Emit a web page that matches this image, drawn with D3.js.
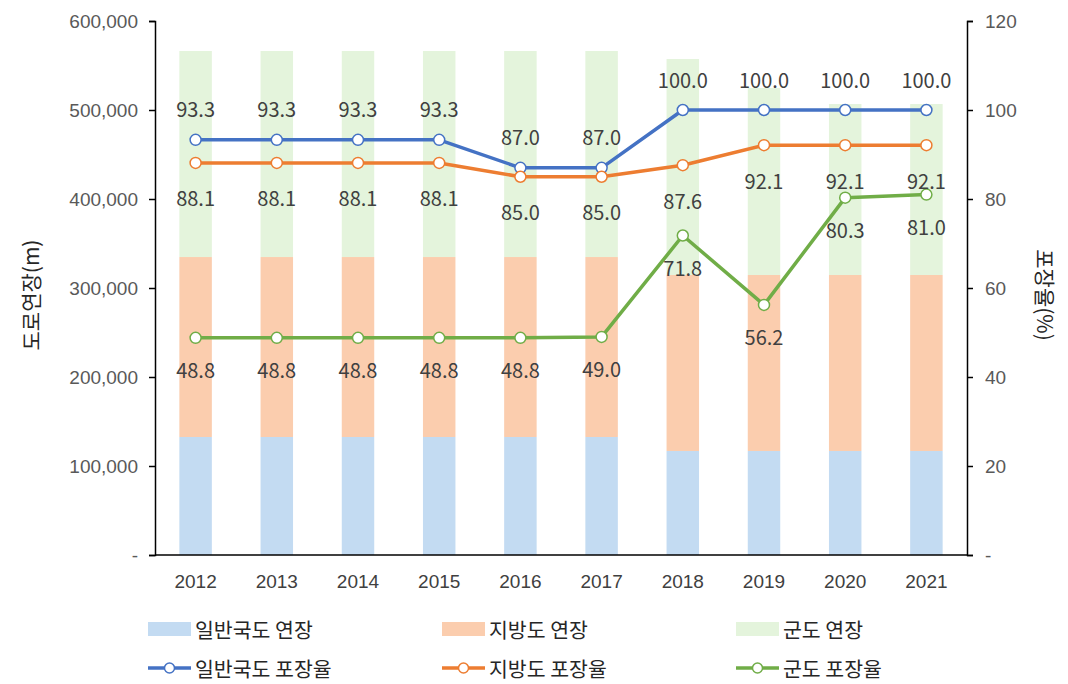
<!DOCTYPE html>
<html>
<head>
<meta charset="utf-8">
<script src="https://cdn.jsdelivr.net/npm/d3@7"></script>
<style>
  html, body { margin: 0; padding: 0; background: #fff; }
  svg { display: block; font-family: "Noto Sans CJK KR", "Noto Sans", sans-serif; }
</style>
</head>
<body>
<svg id="chart" width="1068" height="684"></svg>
<script>
// Road length by class (m) and paving rate (%) per year
const years = ["2012", "2013", "2014", "2015", "2016", "2017", "2018", "2019", "2020", "2021"];

const nationalLength = [132600, 132600, 132600, 132600, 132600, 132600, 116900, 116900, 116900, 116900];
const provincialLength = [202200, 202200, 202200, 202200, 202200, 202200, 197700, 197700, 197700, 197700];
const countyLength = [231500, 231500, 231500, 231500, 231500, 231500, 242700, 210100, 192100, 192100];

const nationalRate = [93.3, 93.3, 93.3, 93.3, 87.0, 87.0, 100.0, 100.0, 100.0, 100.0];
const provincialRate = [88.1, 88.1, 88.1, 88.1, 85.0, 85.0, 87.6, 92.1, 92.1, 92.1];
const countyRate = [48.8, 48.8, 48.8, 48.8, 48.8, 49.0, 71.8, 56.2, 80.3, 81.0];

const lengthTicks = [0, 100000, 200000, 300000, 400000, 500000, 600000];
const rateTicks = [0, 20, 40, 60, 80, 100, 120];

const barSeries = [
  { name: "일반국도 연장", values: nationalLength, color: "#C3DBF2" },
  { name: "지방도 연장", values: provincialLength, color: "#FBCDAE" },
  { name: "군도 연장", values: countyLength, color: "#E4F4DC" }
];
const lineSeries = [
  { name: "일반국도 포장율", values: nationalRate, color: "#4472C4", labelDy: -31 },
  { name: "지방도 포장율", values: provincialRate, color: "#ED7D31", labelDy: 35 },
  { name: "군도 포장율", values: countyRate, color: "#70AD47", labelDy: 32 }
];

const svg = d3.select("#chart");
const plotLeft = 155, plotRight = 967, plotTop = 21, plotBottom = 555;

const x = d3.scaleBand().domain(years).range([plotLeft, plotRight])
  .paddingInner(0.6).paddingOuter(0.3);
const yL = d3.scaleLinear().domain([0, 600000]).range([plotBottom, plotTop]);
const yR = d3.scaleLinear().domain([0, 120]).range([plotBottom, plotTop]);

// Stacked bars
const rows = years.map((yr, i) => {
  const r = { year: yr };
  barSeries.forEach(s => r[s.name] = s.values[i]);
  return r;
});
const stack = d3.stack().keys(barSeries.map(s => s.name))(rows);
svg.append("g").selectAll("g").data(stack).join("g")
  .attr("fill", (d, i) => barSeries[i].color)
  .selectAll("rect").data(d => d).join("rect")
  .attr("x", d => x(d.data.year))
  .attr("width", x.bandwidth())
  .attr("y", d => yL(d[1]))
  .attr("height", d => yL(d[0]) - yL(d[1]));

// Axes
const fmtLen = v => v === 0 ? "-" : d3.format(",")(v);
const fmtRate = v => v === 0 ? "-" : String(v);

const gL = svg.append("g").attr("transform", `translate(${plotLeft},0)`)
  .call(d3.axisLeft(yL).tickValues(lengthTicks).tickFormat(fmtLen).tickSizeOuter(6).tickSize(6).tickPadding(11));
const gR = svg.append("g").attr("transform", `translate(${plotRight},0)`)
  .call(d3.axisRight(yR).tickValues(rateTicks).tickFormat(fmtRate).tickSizeOuter(6).tickSize(6).tickPadding(12));
const gB = svg.append("g").attr("transform", `translate(0,${plotBottom})`)
  .call(d3.axisBottom(x).tickSize(0).tickSizeOuter(0).tickPadding(20));

[gL, gR, gB].forEach(g => {
  g.select(".domain").attr("stroke", "#000").attr("stroke-width", 1.5);
  g.selectAll(".tick line").attr("stroke", "#000").attr("stroke-width", 1.5);
  g.selectAll(".tick text").attr("fill", "#595959").style("font-size", "19px");
});
gB.select(".domain").attr("d", `M${plotLeft},0H${plotRight}`);
gB.selectAll(".tick text").attr("fill", "#404040").style("font-size", "19px");

// Axis titles
svg.append("text")
  .attr("transform", `translate(30,${(plotTop + plotBottom) / 2 + 7}) rotate(-90)`)
  .attr("text-anchor", "middle").attr("dominant-baseline", "central")
  .attr("fill", "#262626").style("font-size", "21px")
  .text("도로연장(m)");
svg.append("text")
  .attr("transform", `translate(1046,${(plotTop + plotBottom) / 2 + 7}) rotate(90)`)
  .attr("text-anchor", "middle").attr("dominant-baseline", "central")
  .attr("fill", "#262626").style("font-size", "21px")
  .text("포장율(%)");

// Rate lines with markers and value labels
const cx = yr => x(yr) + x.bandwidth() / 2;
const line = d3.line().x((d, i) => cx(years[i])).y(d => yR(d));

lineSeries.forEach(s => {
  svg.append("path").datum(s.values)
    .attr("d", line).attr("fill", "none")
    .attr("stroke", s.color).attr("stroke-width", 3.5)
    .attr("stroke-linejoin", "round");
});
lineSeries.forEach(s => {
  svg.append("g").selectAll("circle").data(s.values).join("circle")
    .attr("cx", (d, i) => cx(years[i])).attr("cy", d => yR(d))
    .attr("r", 5.5).attr("fill", "#fff")
    .attr("stroke", s.color).attr("stroke-width", 1.5);
});
lineSeries.forEach(s => {
  svg.append("g").selectAll("text").data(s.values).join("text")
    .attr("x", (d, i) => cx(years[i])).attr("y", d => yR(d) + s.labelDy)
    .attr("text-anchor", "middle").attr("dominant-baseline", "central")
    .attr("fill", "#404040").style("font-size", "20px")
    .text(d => d3.format(".1f")(d));
});

// Legend
const legendCols = [148, 442, 736];
const legend = svg.append("g");
barSeries.forEach((s, i) => {
  const g = legend.append("g").attr("transform", `translate(${legendCols[i]},629)`);
  g.append("rect").attr("x", 0).attr("y", -7).attr("width", 43).attr("height", 14).attr("fill", s.color);
  g.append("text").attr("x", 47).attr("y", 0).attr("dominant-baseline", "central")
    .attr("fill", "#262626").style("font-size", "20.5px").text(s.name);
});
lineSeries.forEach((s, i) => {
  const g = legend.append("g").attr("transform", `translate(${legendCols[i]},668)`);
  g.append("line").attr("x1", 0).attr("x2", 43).attr("y1", 0).attr("y2", 0)
    .attr("stroke", s.color).attr("stroke-width", 3.5);
  g.append("circle").attr("cx", 21.5).attr("cy", 0).attr("r", 5)
    .attr("fill", "#fff").attr("stroke", s.color).attr("stroke-width", 1.5);
  g.append("text").attr("x", 47).attr("y", 0).attr("dominant-baseline", "central")
    .attr("fill", "#262626").style("font-size", "20.5px").text(s.name);
});
</script>
</body>
</html>
